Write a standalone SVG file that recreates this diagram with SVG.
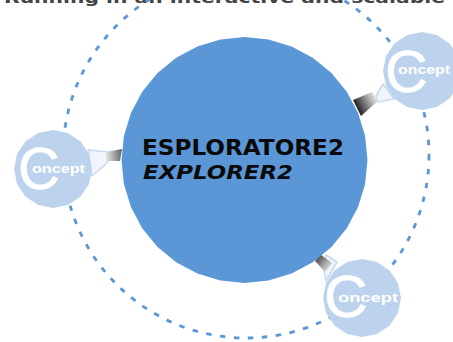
<svg xmlns="http://www.w3.org/2000/svg" width="453" height="342" viewBox="0 0 453 342">
<style>
.node{fill:#bdd3ed}
.c{font-family:"Liberation Sans",Arial,sans-serif;fill:#fff;stroke:#fff;stroke-width:0.6px;font-size:60px}
.s{font-family:"Liberation Sans",Arial,sans-serif;fill:#fff;font-size:12px;font-weight:bold}
.wedge{fill:#f1f5fb;stroke:#c6d9ef;stroke-width:1.5px;stroke-linejoin:round}
.t{font-family:"DejaVu Sans",sans-serif;font-weight:bold;fill:#0a0a0a}
</style>
<defs>
<polygon id="blob" points="39,0 36,14.900 27.600,27.600 14.900,36 0,39 -14.900,36 -27.600,27.600 -36,14.900 -39,0 -36,-14.900 -27.600,-27.600 -14.900,-36 0,-39 14.900,-36 27.600,-27.600 36,-14.900"/>
<linearGradient id="g1" gradientUnits="userSpaceOnUse" x1="357" y1="108" x2="376" y2="98"><stop offset="0" stop-color="#222"/><stop offset="0.5" stop-color="#888"/><stop offset="1" stop-color="#e4e4e4"/></linearGradient>
<linearGradient id="g2" gradientUnits="userSpaceOnUse" x1="122" y1="155" x2="105" y2="157"><stop offset="0" stop-color="#666"/><stop offset="0.5" stop-color="#aaa"/><stop offset="1" stop-color="#eee"/></linearGradient>
<linearGradient id="g3" gradientUnits="userSpaceOnUse" x1="318" y1="258" x2="332" y2="270"><stop offset="0" stop-color="#555"/><stop offset="0.5" stop-color="#aaa"/><stop offset="1" stop-color="#eee"/></linearGradient>
</defs>
<text x="4" y="2.500" textLength="441" lengthAdjust="spacingAndGlyphs" font-family="'DejaVu Sans',sans-serif" font-weight="bold" font-size="15" fill="#444">Running in an interactive and scalable</text>
<g id="connectors">
<circle cx="246" cy="155" r="183" fill="none" stroke="#5b96d5" stroke-width="2.800" stroke-dasharray="5.500 8.500"/>
<polygon class="wedge" points="383,84 376,96 378,102 394,99"/>
<polygon points="353,100 372,92 378,101 361,116" fill="url(#g1)"/>
<polygon class="wedge" points="88,150 108,152 108,162 92,176"/>
<polygon points="106,152 122,149 120,161 106,161" fill="url(#g2)"/>
<polygon class="wedge" points="326,255 337,262 326,281 324,270"/>
<polygon points="320,254 332,263 325,272 315,261" fill="url(#g3)"/>
</g>
<g id="center">
<polygon transform="translate(244.500 160)" fill="#5b97d6" points="123,0 120.600,24 113.600,47.100 102.300,68.300 87,87 68.300,102.300 47.100,113.600 24,120.600 0,123 -24,120.600 -47.100,113.600 -68.300,102.300 -87,87 -102.300,68.300 -113.600,47.100 -120.600,24 -123,0 -120.600,-24 -113.600,-47.100 -102.300,-68.300 -87,-87 -68.300,-102.300 -47.100,-113.600 -24,-120.600 0,-123 24,-120.600 47.100,-113.600 68.300,-102.300 87,-87 102.300,-68.300 113.600,-47.100 120.600,-24"/>
<text class="t" x="142" y="155" font-size="21" textLength="202" lengthAdjust="spacingAndGlyphs">ESPLORATORE2</text>
<text class="t" x="143" y="179" font-size="20" font-style="italic" textLength="150" lengthAdjust="spacingAndGlyphs">EXPLORER2</text>
</g>
<g id="node-right">
<use href="#blob" class="node" x="422" y="71"/>
<text class="c" x="385" y="92" textLength="43" lengthAdjust="spacingAndGlyphs">C</text>
<text class="s" x="398" y="74" textLength="52" lengthAdjust="spacingAndGlyphs">oncept</text>
</g>
<g id="node-left">
<use href="#blob" class="node" x="53" y="169"/>
<text class="c" x="18" y="189" textLength="42" lengthAdjust="spacingAndGlyphs">C</text>
<text class="s" x="32" y="173" textLength="53" lengthAdjust="spacingAndGlyphs">oncept</text>
</g>
<g id="node-bottom">
<use href="#blob" class="node" x="362" y="298"/>
<text class="c" x="324" y="317" textLength="44" lengthAdjust="spacingAndGlyphs">C</text>
<text class="s" x="338" y="302" textLength="60" lengthAdjust="spacingAndGlyphs">oncept</text>
</g>
</svg>
